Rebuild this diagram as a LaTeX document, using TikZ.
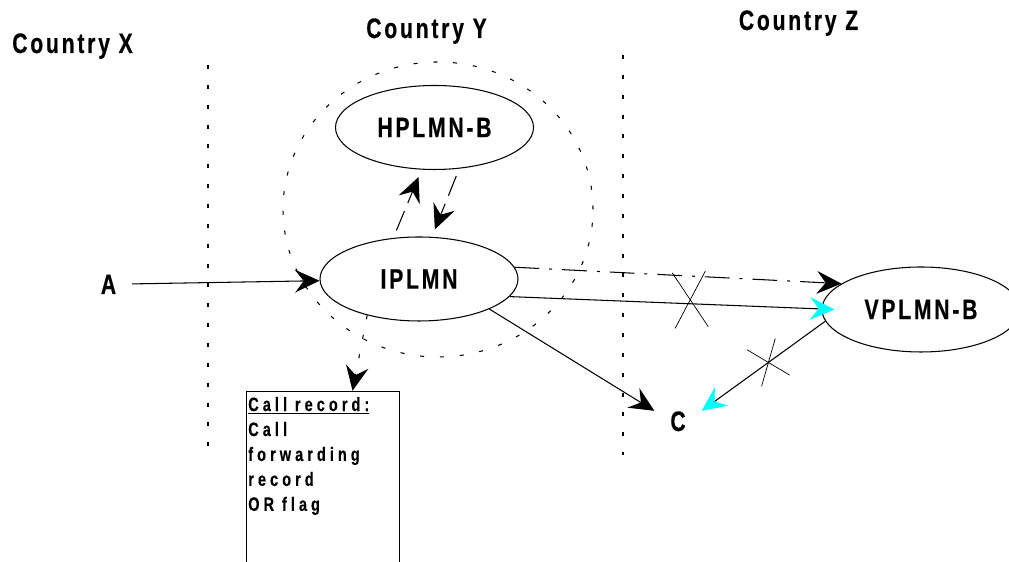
\documentclass[tikz,border=0pt]{standalone}
\usepackage{fontspec}
\usepackage{tikz}
\usetikzlibrary{arrows.meta,calc,shapes}
\newfontfamily\labelfont[FakeStretch=0.75,FakeBold=0.5,LetterSpace=10]{Liberation Sans}
\newfontfamily\notefont[FakeStretch=0.75,FakeBold=0.4,LetterSpace=21]{Liberation Sans}
\newcommand\gap{\hspace{4.5pt}}
\definecolor{aqua}{RGB}{0,255,255}
\tikzset{
    net/.style={draw, ellipse, minimum width=3.96cm, minimum height=1.68cm, inner sep=0pt, font=\labelfont\bfseries\fontsize{16}{18}\selectfont},
    place/.style={anchor=base, font=\labelfont\bfseries\fontsize{16}{18}\selectfont},
    party/.style={place, inner xsep=0.31cm, inner ysep=0pt},
    border/.style={dash pattern=on 2.3pt off 9pt},
    hop/.style={dash pattern=on 12pt off 5pt, shorten <=0.16cm, shorten >=0.16cm},
    cyanhead/.style={-{Stealth[length=14pt,width=13pt,inset=5pt,color=aqua]}},
    barred/.style args={#1/#2/#3}{draw, cross out, line width=0.4pt, inner sep=0pt, minimum width=#1, minimum height=#2, rotate=#3}
}
\begin{document}
\begin{tikzpicture}[>={Stealth[length=14pt,width=13pt,inset=5pt]}, line width=0.6pt]
\useasboundingbox (0,0) rectangle (20.18,11.24);
\clip (0,0) rectangle (20.18,11.24);
\foreach \c/\x/\y in {X/1.45/10.18, Y/8.53/10.48, Z/15.97/10.64} {
    \node[place] (country\c) at (\x,\y) {Country \c};
}
\foreach \x/\top/\bot in {4.16/9.94/2.04, 12.46/10.14/2.14} {
    \draw[border] (\x,\top) -- (\x,\bot);
}
\draw[border] (8.76,7.05) ellipse (3.1 and 2.95);
\node[net] (hplmn) at (8.69,8.69) {HPLMN-B};
\node[net] (iplmn) at (8.38,5.66) {IPLMN};
\node[net, minimum height=1.7cm] (vplmn) at (18.42,5.05) {VPLMN-B};
\node[party] (A) at (2.17,5.36) {A};
\node[party] (C) at (13.56,2.62) {C};
\node[draw, anchor=north west, text width=3.06cm-2pt, align=left, inner xsep=1pt, inner ysep=3.3pt, text depth=3cm,
      font=\notefont\bfseries\fontsize{11}{14.2}\selectfont] (callrec) at (4.92,3.426)
      {\underline{Call\gap record:}\\Call\\forwarding\\record\\OR\gap flag};
\draw[->] (A) -- (iplmn);
\draw[->, hop] (iplmn.122) -- (hplmn.253);
\draw[->, hop] (hplmn.301) -- (iplmn.73);
\draw[->, border] (iplmn.215) -- ([xshift=0.59cm]callrec.north);
\draw[->, dash pattern=on 14pt off 5.7pt on 1.7pt off 5.7pt] (iplmn.7) -- (vplmn.162);
\draw[cyanhead] (iplmn.349) -- coordinate[pos=0.556] (cutA) ([xshift=0.26cm]vplmn.west);
\draw[->] (iplmn.south east) -- (C.north west);
\draw[cyanhead] (vplmn.187) -- coordinate[pos=0.46] (cutB) (C.north east);
\node[barred={0.65cm/1.1cm/3}] (crossA) at ([yshift=0.08cm]cutA) {};
\node[barred={0.59cm/0.77cm/21.6}] (crossB) at (cutB) {};
\end{tikzpicture}
\end{document}
